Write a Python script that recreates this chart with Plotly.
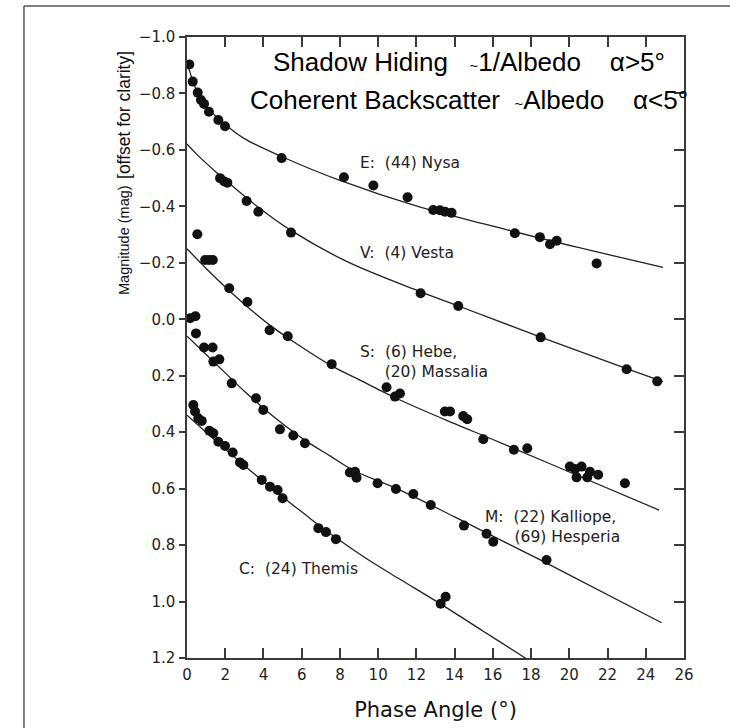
import plotly.graph_objects as go

# ---------------- data ----------------
# E: (44) Nysa
e_x = [0.12, 0.30, 0.56, 0.73, 0.89, 1.15, 1.64, 1.99, 4.95, 8.21, 9.75, 11.54,
       12.88, 13.23, 13.5, 13.84, 17.15, 18.46, 18.99, 19.34, 21.43]
e_y = [-0.903, -0.842, -0.803, -0.777, -0.763, -0.735, -0.706, -0.684, -0.571, -0.503,
       -0.474, -0.432, -0.387, -0.386, -0.381, -0.377, -0.305, -0.291, -0.266, -0.278, -0.198]
e_fit_x = [0, 0.25, 0.5, 1, 2, 3, 5, 8, 12.2, 16, 19.2, 24.9]
e_fit_y = [-0.913, -0.855, -0.81, -0.755, -0.69, -0.64, -0.575, -0.492, -0.397, -0.33, -0.275, -0.184]

# V: (4) Vesta
v_x = [1.73, 1.95, 2.11, 3.12, 3.73, 5.44, 12.22, 14.19, 18.5, 23.0, 24.6]
v_y = [-0.5, -0.488, -0.484, -0.419, -0.381, -0.307, -0.092, -0.047, 0.064, 0.177, 0.22]
v_fit_x = [0, 0.5, 1.38, 2.1, 3.12, 3.73, 5.44, 8.35, 12.2, 14.2, 18.5, 23, 24.9]
v_fit_y = [-0.621, -0.585, -0.53, -0.488, -0.43, -0.397, -0.315, -0.205, -0.098, -0.047, 0.063, 0.175, 0.221]

# S: (6) Hebe, (20) Massalia
s_x = [0.54, 0.95, 1.15, 1.35, 2.21, 3.16, 4.32, 5.27, 7.57, 10.44, 10.88, 11.14, 13.49,
       13.76, 14.45, 14.66, 15.5, 17.1, 17.8, 20.03, 20.3, 20.38, 20.64, 20.94, 21.08, 21.51, 22.91]
s_y = [-0.301, -0.21, -0.21, -0.21, -0.11, -0.061, 0.039, 0.06, 0.159, 0.241, 0.274, 0.263, 0.327,
       0.327, 0.343, 0.354, 0.425, 0.462, 0.457, 0.522, 0.53, 0.56, 0.522, 0.56, 0.54, 0.551, 0.581]
s_fit_x = [0, 1, 2.2, 3.2, 4.3, 5.3, 7.6, 9, 11.14, 14, 16, 20, 24.7]
s_fit_y = [-0.25, -0.18, -0.102, -0.042, 0.019, 0.067, 0.166, 0.214, 0.286, 0.37, 0.426, 0.541, 0.676]

# M: (22) Kalliope, (69) Hesperia
m_x = [0.16, 0.44, 0.47, 0.89, 1.34, 1.38, 1.69, 2.34, 3.61, 3.99, 4.86, 5.56, 6.17, 8.52,
       8.79, 8.87, 9.97, 10.93, 11.84, 12.75, 14.49, 15.67, 16.02, 18.81]
m_y = [-0.004, -0.011, 0.05, 0.10, 0.10, 0.15, 0.142, 0.227, 0.28, 0.321, 0.39, 0.412, 0.439, 0.543,
       0.54, 0.561, 0.581, 0.601, 0.619, 0.658, 0.731, 0.76, 0.788, 0.853]
m_fit_x = [0, 1, 2, 3, 4, 5, 6.2, 7.5, 8.7, 11.14, 14, 18.81, 24.83]
m_fit_y = [0.06, 0.125, 0.19, 0.255, 0.315, 0.37, 0.43, 0.485, 0.535, 0.605, 0.70, 0.864, 1.075]

# C: (24) Themis
c_x = [0.33, 0.42, 0.59, 0.77, 1.17, 1.38, 1.64, 1.99, 2.39, 2.77, 2.95, 3.91, 4.34, 4.74,
       5.0, 6.87, 7.27, 7.79, 13.27, 13.53]
c_y = [0.304, 0.327, 0.351, 0.36, 0.395, 0.404, 0.434, 0.449, 0.472, 0.507, 0.516, 0.569, 0.593,
       0.605, 0.634, 0.74, 0.754, 0.779, 1.008, 0.983]
c_fit_x = [0, 1, 2, 3, 4, 5, 6, 7, 8, 9.5, 11.14, 13.3, 15.5, 17.7, 18.5]
c_fit_y = [0.34, 0.40, 0.46, 0.518, 0.575, 0.63, 0.682, 0.735, 0.784, 0.853, 0.921, 1.01, 1.105, 1.2, 1.235]

NB = "\u00a0"
series_labels = ["E:" + NB * 2 + "(44) Nysa",
                 "V:" + NB * 2 + "(4) Vesta",
                 "S:" + NB * 2 + "(6) Hebe,<br>" + NB * 5 + "(20) Massalia",
                 "M:" + NB * 2 + "(22) Kalliope,<br>" + NB * 6 + "(69) Hesperia",
                 "C:" + NB * 2 + "(24) Themis"]
label_x = [8.94, 8.94, 8.94, 15.48, 2.62]
label_y = [-0.555, -0.236, 0.15, 0.736, 0.886]

x_title = "Phase Angle (°)"
y_title_a = "Magnitude (mag)"
y_title_b = "[offset for clarity]"
note1 = "Shadow Hiding" + NB * 3 + "<span style='font-size:15px'>~</span>1/Albedo" + NB * 4 + "α&gt;5°"
note2 = "Coherent Backscatter" + NB * 2 + "<span style='font-size:15px'>~</span>Albedo" + NB * 4 + "α&lt;5°"

# ---------------- figure ----------------
AX = "#3a3a3a"
fig = go.Figure()

for fx, fy in [(e_fit_x, e_fit_y), (v_fit_x, v_fit_y), (s_fit_x, s_fit_y),
               (m_fit_x, m_fit_y), (c_fit_x, c_fit_y)]:
    fig.add_trace(go.Scatter(x=fx, y=fy, mode="lines", line=dict(color="#222", width=1.3, shape="spline"),
                             hoverinfo="skip", showlegend=False))

for px, py in [(e_x, e_y), (v_x, v_y), (s_x, s_y), (m_x, m_y), (c_x, c_y)]:
    fig.add_trace(go.Scatter(x=px, y=py, mode="markers",
                             marker=dict(symbol="circle", size=10, color="#111", line=dict(width=0)),
                             showlegend=False))

# dummy trace so the mirrored axes are drawn
fig.add_trace(go.Scatter(x=[None], y=[None], xaxis="x2", yaxis="y2", showlegend=False, hoverinfo="skip"))

tickfont = dict(family="DejaVu Sans", size=15, color="#222")

fig.update_layout(
    width=730, height=728,
    margin=dict(l=187, r=46, t=37, b=70),
    paper_bgcolor="white", plot_bgcolor="white",
    showlegend=False,
    xaxis=dict(range=[0, 26], tick0=0, dtick=2, ticks="inside", ticklen=10, tickwidth=1.5,
               tickcolor=AX, showline=True, linecolor=AX, linewidth=1.5, showgrid=False,
               zeroline=False, tickfont=tickfont, ticklabelstandoff=2, automargin=False,
               title=dict(text=x_title, font=dict(family="DejaVu Sans", size=21, color="#111"), standoff=20)),
    xaxis2=dict(range=[0, 26], tick0=0, dtick=2, ticks="inside", ticklen=10, tickwidth=1.5,
                tickcolor=AX, showline=True, linecolor=AX, linewidth=1.5, showgrid=False,
                zeroline=False, showticklabels=False, overlaying="x", side="top", automargin=False),
    yaxis=dict(range=[1.2, -1.0], tick0=-1.0, dtick=0.2, tickformat=".1f", ticks="outside", ticklen=6,
               tickwidth=1.5, tickcolor=AX, showline=True, linecolor=AX, linewidth=1.5,
               showgrid=False, zeroline=False, tickfont=tickfont, ticklabelstandoff=1, automargin=False),
    yaxis2=dict(range=[1.2, -1.0], tick0=-1.0, dtick=0.2, ticks="inside", ticklen=10, tickwidth=1.5,
                tickcolor=AX, showline=True, linecolor=AX, linewidth=1.5, showgrid=False,
                zeroline=False, showticklabels=False, overlaying="y", side="right", automargin=False),
)

# outer frame of the original slide (partially cropped)
fig.add_shape(type="line", xref="paper", yref="paper", x0=-0.328, x1=1.2, y0=1.0498, y1=1.0498,
              line=dict(color="#555", width=1.5))
fig.add_shape(type="line", xref="paper", yref="paper", x0=-0.328, x1=-0.328, y0=1.0498, y1=-0.2,
              line=dict(color="#555", width=1.5))

for t, lx, ly in zip(series_labels, label_x, label_y):
    fig.add_annotation(x=lx, y=ly, xref="x", yref="y", text=t, showarrow=False,
                       xanchor="left", yanchor="middle", align="left",
                       font=dict(family="DejaVu Sans", size=15.5, color="#222"))

fig.add_annotation(x=14.75, y=-0.911, xref="x", yref="y", text=note1, showarrow=False,
                   xanchor="center", yanchor="middle",
                   font=dict(family="Liberation Sans", size=26, color="#000"))
fig.add_annotation(x=14.75, y=-0.777, xref="x", yref="y", text=note2, showarrow=False,
                   xanchor="center", yanchor="middle",
                   font=dict(family="Liberation Sans", size=26, color="#000"))

fig.add_annotation(x=-0.1268, y=0.6731, xref="paper", yref="paper", text=y_title_a, showarrow=False,
                   textangle=-90, xanchor="center", yanchor="middle",
                   font=dict(family="Liberation Sans", size=14.5, color="#111"))
fig.add_annotation(x=-0.1268, y=0.8744, xref="paper", yref="paper", text=y_title_b, showarrow=False,
                   textangle=-90, xanchor="center", yanchor="middle",
                   font=dict(family="Liberation Sans", size=17.5, color="#111"))

fig.write_html("out.html")
